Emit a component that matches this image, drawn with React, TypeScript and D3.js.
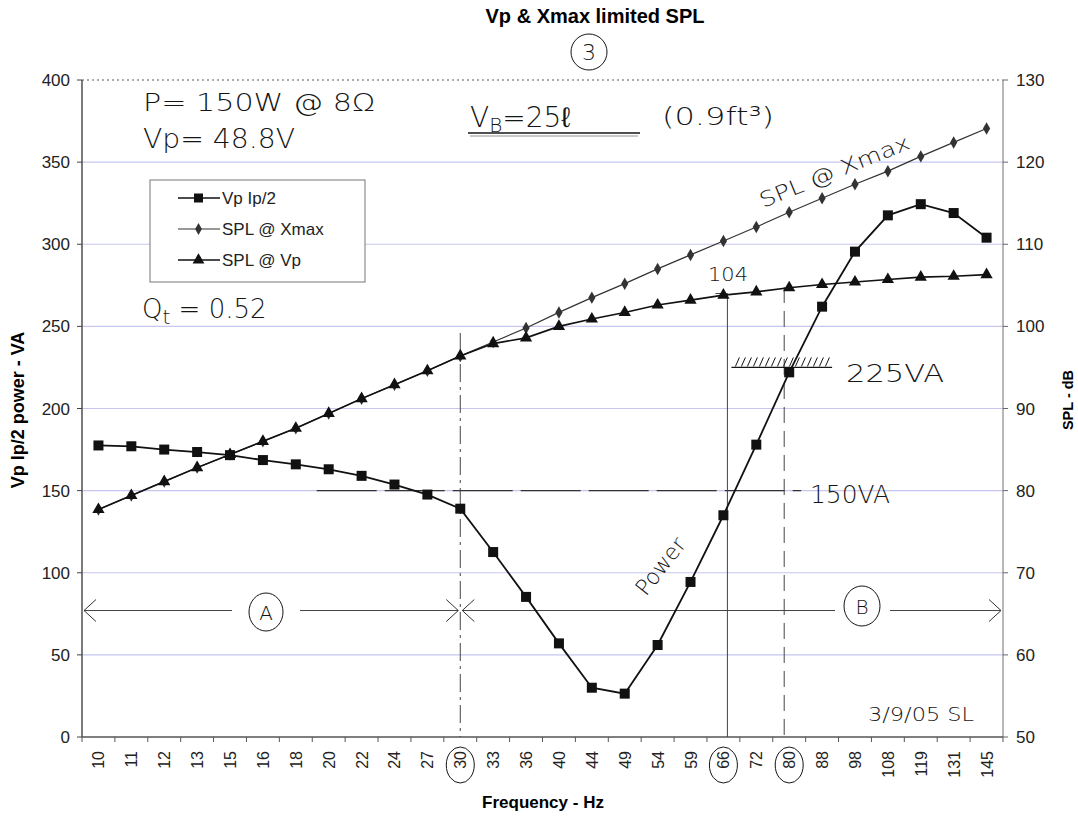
import React, { useEffect, useRef } from 'react'
import * as d3 from 'd3'

// frequency categories (Hz)
const freqs = ['10', '11', '12', '13', '15', '16', '18', '20', '22', '24', '27', '30', '33', '36', '40', '44', '49', '54', '59', '66', '72', '80', '88', '98', '108', '119', '131', '145']
// Vp Ip/2 power - VA (left axis)
const vpIp = [177.5, 177, 175, 173.5, 171.6, 168.6, 166, 163, 159, 153.7, 147.6, 139, 112.6, 85.3, 57, 30, 26.4, 56, 94.4, 135, 178, 222, 262, 295.5, 317.6, 324.4, 319, 304]
// SPL @ Xmax - dB (right axis)
const splXmax = [77.7, 79.4, 81.1, 82.8, 84.4, 86.0, 87.6, 89.4, 91.2, 92.9, 94.6, 96.4, 98.1, 99.8, 101.7, 103.5, 105.2, 107.0, 108.7, 110.4, 112.1, 113.9, 115.6, 117.3, 118.9, 120.7, 122.4, 124.1]
// SPL @ Vp - dB (right axis)
const splVp = [77.7, 79.4, 81.1, 82.8, 84.4, 86.0, 87.6, 89.4, 91.2, 92.9, 94.6, 96.4, 97.9, 98.6, 100.0, 100.9, 101.7, 102.6, 103.2, 103.8, 104.2, 104.7, 105.1, 105.4, 105.7, 106.0, 106.1, 106.3]
const leftTicks = [0, 50, 100, 150, 200, 250, 300, 350, 400]
const rightTicks = [50, 60, 70, 80, 90, 100, 110, 120, 130]
const circledFreqs = ['30', '66', '80']

const App = () => {
  const ref = useRef(null)

  useEffect(() => {
    const W = 1078
    const H = 816
    const left = 82
    const right = 1003
    const top = 80
    const bottom = 737
    const font = 'Arial, "Liberation Sans", sans-serif'
    const hand = '"DejaVu Sans", sans-serif'
    const pencil = '#151515'

    d3.select(ref.current).selectAll('*').remove()
    const svg = d3
      .select(ref.current)
      .append('svg')
      .attr('width', W)
      .attr('height', H)
      .style('position', 'absolute')
      .style('left', '0px')
      .style('top', '0px')
      .style('background', '#fff')

    const x = d3.scaleBand().domain(freqs).range([left, right]).padding(0)
    const xc = (f) => x(f) + x.bandwidth() / 2
    const yL = d3.scaleLinear().domain([0, 400]).range([bottom, top])
    const yR = d3.scaleLinear().domain([50, 130]).range([bottom, top])

    // gridlines
    svg
      .selectAll('.grid')
      .data(leftTicks.filter((t) => t > 0 && t < 400))
      .enter()
      .append('line')
      .attr('x1', left)
      .attr('x2', right)
      .attr('y1', (d) => yL(d))
      .attr('y2', (d) => yL(d))
      .attr('stroke', '#c6c6f0')
      .attr('stroke-width', 1.2)

    // frame
    svg.append('line').attr('x1', left).attr('x2', right).attr('y1', top).attr('y2', top)
      .attr('stroke', '#555').attr('stroke-dasharray', '2,3')
    svg.append('line').attr('x1', left).attr('x2', left).attr('y1', top).attr('y2', bottom)
      .attr('stroke', '#444').attr('stroke-width', 1.4)
    svg.append('line').attr('x1', right).attr('x2', right).attr('y1', top).attr('y2', bottom)
      .attr('stroke', '#888').attr('stroke-width', 1.2)
    svg.append('line').attr('x1', left).attr('x2', right).attr('y1', bottom).attr('y2', bottom)
      .attr('stroke', '#555').attr('stroke-width', 1.4)

    // left axis
    const gl = svg.append('g')
    gl.selectAll('line').data(leftTicks).enter().append('line')
      .attr('x1', left - 5).attr('x2', left).attr('y1', (d) => yL(d)).attr('y2', (d) => yL(d))
      .attr('stroke', '#444')
    gl.selectAll('text').data(leftTicks).enter().append('text')
      .text((d) => d).attr('x', left - 12).attr('y', (d) => yL(d) + 6)
      .attr('text-anchor', 'end').style('font-family', font).style('font-size', '17px').attr('fill', '#222')

    // right axis
    const gr = svg.append('g')
    gr.selectAll('line').data(rightTicks).enter().append('line')
      .attr('x1', right).attr('x2', right + 5).attr('y1', (d) => yR(d)).attr('y2', (d) => yR(d))
      .attr('stroke', '#666')
    gr.selectAll('text').data(rightTicks).enter().append('text')
      .text((d) => d).attr('x', right + 13).attr('y', (d) => yR(d) + 6)
      .style('font-family', font).style('font-size', '17px').attr('fill', '#222')

    // bottom axis
    const gb = svg.append('g')
    gb.selectAll('line').data(d3.range(freqs.length + 1)).enter().append('line')
      .attr('x1', (i) => left + i * x.bandwidth()).attr('x2', (i) => left + i * x.bandwidth())
      .attr('y1', bottom).attr('y2', bottom + 5).attr('stroke', '#555')
    gb.selectAll('text').data(freqs).enter().append('text')
      .text((d) => d)
      .attr('transform', (d) => `translate(${xc(d) + 6},751) rotate(-90)`)
      .attr('text-anchor', 'end')
      .style('font-family', font).style('font-size', '16px').attr('fill', '#222')

    // circled tick labels
    svg.selectAll('.circ').data(circledFreqs).enter().append('ellipse')
      .attr('cx', (d) => xc(d)).attr('cy', 765).attr('rx', 14).attr('ry', 18)
      .attr('fill', 'none').attr('stroke', pencil).attr('stroke-width', 1)

    // titles
    svg.append('text').text('Vp & Xmax limited SPL').attr('x', 595).attr('y', 23)
      .attr('text-anchor', 'middle').style('font-family', font).style('font-weight', 'bold').style('font-size', '20px')
    svg.append('text').text('Frequency - Hz').attr('x', 543).attr('y', 808)
      .attr('text-anchor', 'middle').style('font-family', font).style('font-weight', 'bold').style('font-size', '17px')
    svg.append('text').text('Vp Ip/2 power - VA').attr('transform', 'translate(24,410) rotate(-90)')
      .attr('text-anchor', 'middle').style('font-family', font).style('font-weight', 'bold').style('font-size', '18px')
    svg.append('text').text('SPL - dB').attr('transform', 'translate(1073,400) rotate(-90)')
      .attr('text-anchor', 'middle').style('font-family', font).style('font-weight', 'bold').style('font-size', '14.5px')

    // pencil annotations: reference lines
    svg.append('line')
      .attr('x1', xc('20') - 12).attr('x2', xc('80') + 12).attr('y1', yL(150)).attr('y2', yL(150))
      .attr('stroke', '#333').attr('stroke-width', 1.3).attr('stroke-dasharray', '60,8')
    svg.append('line')
      .attr('x1', xc('30')).attr('x2', xc('30')).attr('y1', 333).attr('y2', bottom)
      .attr('stroke', '#444').attr('stroke-dasharray', '18,5,3,5')
    svg.append('line')
      .attr('x1', xc('66') + 4).attr('x2', xc('66') + 4).attr('y1', yR(104)).attr('y2', bottom)
      .attr('stroke', '#444')
    svg.append('line')
      .attr('x1', xc('66') - 8).attr('x2', xc('66') + 4).attr('y1', yR(104)).attr('y2', yR(104))
      .attr('stroke', '#444')
    svg.append('line')
      .attr('x1', xc('80') - 5).attr('x2', xc('80') - 5).attr('y1', yR(104.8)).attr('y2', bottom)
      .attr('stroke', '#444').attr('stroke-dasharray', '16,8')
    // 225 VA hatched limit
    const hx0 = xc('66') + 8
    const hx1 = xc('88') + 10
    svg.append('line').attr('x1', hx0).attr('x2', hx1).attr('y1', yL(225)).attr('y2', yL(225))
      .attr('stroke', pencil).attr('stroke-width', 1.3)
    svg.selectAll('.hatch').data(d3.range(hx0 + 4, hx1 - 2, 6)).enter().append('line')
      .attr('x1', (d) => d).attr('x2', (d) => d + 4).attr('y1', yL(225) - 1).attr('y2', yL(225) - 10)
      .attr('stroke', pencil).attr('stroke-width', 1)

    // A / B region arrows
    const ay = yL(77)
    const arrow = (x1, x2, gapA, gapB) => {
      svg.append('line').attr('x1', x1).attr('x2', gapA).attr('y1', ay).attr('y2', ay).attr('stroke', '#444')
      svg.append('line').attr('x1', gapB).attr('x2', x2).attr('y1', ay).attr('y2', ay).attr('stroke', '#444')
      svg.append('path').attr('d', `M${x1 + 12},${ay - 11} L${x1},${ay} L${x1 + 12},${ay + 11}`)
        .attr('fill', 'none').attr('stroke', '#333')
      svg.append('path').attr('d', `M${x2 - 12},${ay - 11} L${x2},${ay} L${x2 - 12},${ay + 11}`)
        .attr('fill', 'none').attr('stroke', '#333')
    }
    arrow(left + 2, xc('30') - 2, 232, 300)
    arrow(xc('30') + 2, right - 2, 835, 890)
    svg.append('ellipse').attr('cx', 266).attr('cy', 612).attr('rx', 17).attr('ry', 19)
      .attr('fill', 'none').attr('stroke', pencil)
    svg.append('text').text('A').attr('x', 266).attr('y', 620).attr('text-anchor', 'middle')
      .style('font-family', hand).style('font-size', '20px').style('font-weight', 200).attr('fill', pencil)
    svg.append('ellipse').attr('cx', 862).attr('cy', 606).attr('rx', 18).attr('ry', 20)
      .attr('fill', 'none').attr('stroke', pencil)
    svg.append('text').text('B').attr('x', 862).attr('y', 614).attr('text-anchor', 'middle')
      .style('font-family', hand).style('font-size', '20px').style('font-weight', 200).attr('fill', pencil)

    // series: SPL @ Xmax
    const lineXmax = d3.line().x((d, i) => xc(freqs[i])).y((d) => yR(d))
    svg.append('path').datum(splXmax).attr('d', lineXmax).attr('fill', 'none')
      .attr('stroke', '#333').attr('stroke-width', 1.2)
    svg.selectAll('.dia').data(splXmax).enter().append('path')
      .attr('d', d3.symbol().type(d3.symbolDiamond).size(45))
      .attr('transform', (d, i) => `translate(${xc(freqs[i])},${yR(d)})`)
      .attr('fill', '#333')

    // series: SPL @ Vp
    const lineVp = d3.line().x((d, i) => xc(freqs[i])).y((d) => yR(d))
    svg.append('path').datum(splVp).attr('d', lineVp).attr('fill', 'none')
      .attr('stroke', '#111').attr('stroke-width', 1.6)
    svg.selectAll('.tri').data(splVp).enter().append('path')
      .attr('d', d3.symbol().type(d3.symbolTriangle).size(65))
      .attr('transform', (d, i) => `translate(${xc(freqs[i])},${yR(d)})`)
      .attr('fill', '#111')

    // series: Vp Ip/2
    const lineP = d3.line().x((d, i) => xc(freqs[i])).y((d) => yL(d))
    svg.append('path').datum(vpIp).attr('d', lineP).attr('fill', 'none')
      .attr('stroke', '#111').attr('stroke-width', 1.8)
    svg.selectAll('.sq').data(vpIp).enter().append('rect')
      .attr('x', (d, i) => xc(freqs[i]) - 5).attr('y', (d) => yL(d) - 5)
      .attr('width', 10).attr('height', 10).attr('fill', '#111')

    // legend
    const lg = svg.append('g')
    lg.append('rect').attr('x', 150).attr('y', 180).attr('width', 215).attr('height', 102)
      .attr('fill', '#fff').attr('stroke', '#777')
    const items = [
      { name: 'Vp Ip/2', y: 198, kind: 'sq' },
      { name: 'SPL @ Xmax', y: 229, kind: 'dia' },
      { name: 'SPL @ Vp', y: 260, kind: 'tri' }
    ]
    items.forEach((it) => {
      lg.append('line').attr('x1', 178).attr('x2', 220).attr('y1', it.y).attr('y2', it.y)
        .attr('stroke', it.kind === 'dia' ? '#333' : '#111').attr('stroke-width', it.kind === 'dia' ? 1.2 : 1.6)
      if (it.kind === 'sq') {
        lg.append('rect').attr('x', 194).attr('y', it.y - 4.5).attr('width', 9).attr('height', 9).attr('fill', '#111')
      } else {
        lg.append('path')
          .attr('d', d3.symbol().type(it.kind === 'dia' ? d3.symbolDiamond : d3.symbolTriangle).size(it.kind === 'dia' ? 40 : 60))
          .attr('transform', `translate(198.5,${it.y})`).attr('fill', it.kind === 'dia' ? '#333' : '#111')
      }
      lg.append('text').text(it.name).attr('x', 222).attr('y', it.y + 6)
        .style('font-family', font).style('font-size', '17px').attr('fill', '#222')
    })

    // handwritten notes
    const note = (t, xx, yy, size, extra) => {
      const el = svg.append('text').text(t).attr('x', xx).attr('y', yy)
        .style('font-family', hand).style('font-size', size + 'px').style('font-weight', 200)
        .attr('fill', pencil)
      if (extra) extra(el)
      return el
    }
    const fit = (w) => (el) => el.attr('textLength', w).attr('lengthAdjust', 'spacingAndGlyphs')
    note('P= 150W @ 8Ω', 143, 111, 25, fit(232))
    note('Vp= 48.8V', 143, 148, 26, fit(152))
    const vb = note('', 470, 127, 28)
    vb.append('tspan').text('V')
    vb.append('tspan').text('B').attr('dy', 5).style('font-size', '20px')
    vb.append('tspan').text('=25ℓ').attr('dy', -5)
    note('(0.9ft³)', 662, 125, 25, fit(112))
    svg.append('line').attr('x1', 468).attr('x2', 640).attr('y1', 133).attr('y2', 133).attr('stroke', pencil).attr('stroke-width', 1.3)
    svg.append('line').attr('x1', 470).attr('x2', 638).attr('y1', 136).attr('y2', 136).attr('stroke', '#777').attr('stroke-width', 0.8)
    const qt = note('', 142, 318, 26)
    qt.append('tspan').text('Q')
    qt.append('tspan').text('t').attr('dy', 6).style('font-size', '20px')
    qt.append('tspan').text(' = 0.52').attr('dy', -6)
    svg.append('ellipse').attr('cx', 589).attr('cy', 52).attr('rx', 18).attr('ry', 18)
      .attr('fill', 'none').attr('stroke', pencil)
    note('3', 589, 60, 22, (el) => el.attr('text-anchor', 'middle'))
    note('SPL @ Xmax', 0, 0, 21, (el) =>
      el.attr('transform', 'translate(763,208) rotate(-22)').attr('textLength', 160).attr('lengthAdjust', 'spacingAndGlyphs'))
    note('104', 708, 281, 20, fit(40))
    note('225VA', 846, 382, 24, fit(98))
    note('150VA', 810, 503, 24, fit(80))
    note('Power', 0, 0, 22, (el) => el.attr('transform', 'translate(646,597) rotate(-52)'))
    note('3/9/05 SL', 868, 721, 20, fit(106))
  }, [])

  return <div ref={ref}></div>
}

export default App
